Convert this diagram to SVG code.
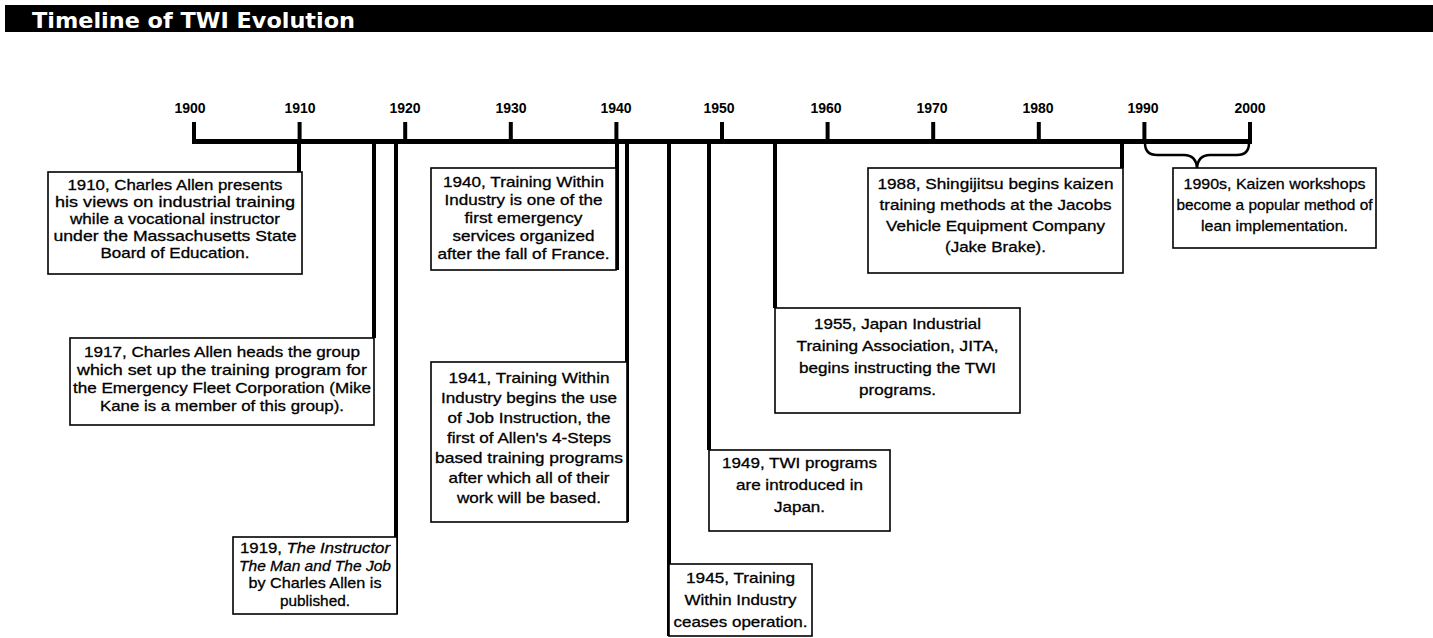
<svg xmlns="http://www.w3.org/2000/svg" width="1433" height="638" viewBox="0 0 1433 638">
<style>
.bg{fill:#fff}
.box{fill:#fff;stroke:#000;stroke-width:1.6}
.t{font-family:"Liberation Sans",Arial,sans-serif;font-size:15px;fill:#000;stroke:#000;stroke-width:0.3;text-anchor:middle}
.yr{font-family:"Liberation Sans",Arial,sans-serif;font-size:14px;font-weight:bold;fill:#000;text-anchor:middle}
.ax{stroke:#000;stroke-width:5;fill:none}
.tk{stroke:#000;stroke-width:4;fill:none}
.cn{stroke:#000;stroke-width:4;fill:none}
.br{stroke:#000;stroke-width:2.5;fill:none}
.it{font-style:italic}
</style>
<rect class="bg" x="0" y="0" width="1433" height="638"/>
<g id="title">
<rect x="5" y="5" width="1428" height="27" fill="#000"/>
<text x="32" y="28" font-family="DejaVu Sans,sans-serif" font-size="21" font-weight="bold" fill="#fff" textLength="323" lengthAdjust="spacingAndGlyphs">Timeline of TWI Evolution</text>
</g>
<g id="axis">
<line class="ax" x1="192" y1="141.5" x2="1252" y2="141.5"/>
<line class="tk" x1="194" y1="122" x2="194" y2="144"/>
<line class="tk" x1="299.6" y1="122" x2="299.6" y2="141"/>
<line class="tk" x1="405.2" y1="122" x2="405.2" y2="141"/>
<line class="tk" x1="510.8" y1="122" x2="510.8" y2="141"/>
<line class="tk" x1="616.4" y1="122" x2="616.4" y2="141"/>
<line class="tk" x1="722" y1="122" x2="722" y2="141"/>
<line class="tk" x1="827.6" y1="122" x2="827.6" y2="141"/>
<line class="tk" x1="933.2" y1="122" x2="933.2" y2="141"/>
<line class="tk" x1="1038.8" y1="122" x2="1038.8" y2="141"/>
<line class="tk" x1="1144.4" y1="122" x2="1144.4" y2="141"/>
<line class="tk" x1="1250" y1="122" x2="1250" y2="144"/>
<text class="yr" x="190" y="113">1900</text>
<text class="yr" x="300" y="113">1910</text>
<text class="yr" x="405" y="113">1920</text>
<text class="yr" x="511" y="113">1930</text>
<text class="yr" x="616" y="113">1940</text>
<text class="yr" x="719" y="113">1950</text>
<text class="yr" x="826" y="113">1960</text>
<text class="yr" x="932" y="113">1970</text>
<text class="yr" x="1038" y="113">1980</text>
<text class="yr" x="1143" y="113">1990</text>
<text class="yr" x="1250" y="113">2000</text>
</g>
<g id="connectors">
<line class="cn" x1="299" y1="143" x2="299" y2="172"/>
<line class="cn" x1="374" y1="143" x2="374" y2="338"/>
<line class="cn" x1="396" y1="143" x2="396" y2="614"/>
<line class="cn" x1="617" y1="143" x2="617" y2="270"/>
<line class="cn" x1="627" y1="143" x2="627" y2="522"/>
<line class="cn" x1="669" y1="143" x2="669" y2="636"/>
<line class="cn" x1="709" y1="143" x2="709" y2="450"/>
<line class="cn" x1="775" y1="143" x2="775" y2="308"/>
<line class="cn" x1="1122" y1="143" x2="1122" y2="168"/>
<path class="br" d="M1145,143 Q1145,155 1157,155 L1184,155 Q1196,155 1197,168 Q1198,155 1210,155 L1237,155 Q1249,155 1249,143"/>
</g>
<g id="e1910">
<rect class="box" x="48" y="172" width="254" height="102"/>
<text class="t" x="175" y="190" textLength="215" lengthAdjust="spacingAndGlyphs">1910, Charles Allen presents</text>
<text class="t" x="175" y="207" textLength="240" lengthAdjust="spacingAndGlyphs">his views on industrial training</text>
<text class="t" x="175" y="224" textLength="210" lengthAdjust="spacingAndGlyphs">while a vocational instructor</text>
<text class="t" x="175" y="241" textLength="243" lengthAdjust="spacingAndGlyphs">under the Massachusetts State</text>
<text class="t" x="175" y="258" textLength="149" lengthAdjust="spacingAndGlyphs">Board of Education.</text>
</g>
<g id="e1917">
<rect class="box" x="70" y="338" width="304" height="87"/>
<text class="t" x="222" y="357" textLength="276" lengthAdjust="spacingAndGlyphs">1917, Charles Allen heads the group</text>
<text class="t" x="222" y="375" textLength="290" lengthAdjust="spacingAndGlyphs">which set up the training program for</text>
<text class="t" x="222" y="393" textLength="298" lengthAdjust="spacingAndGlyphs">the Emergency Fleet Corporation (Mike</text>
<text class="t" x="222" y="411" textLength="244" lengthAdjust="spacingAndGlyphs">Kane is a member of this group).</text>
</g>
<g id="e1919">
<rect class="box" x="233" y="537" width="164" height="77"/>
<text class="t" x="315" y="553" textLength="150" lengthAdjust="spacingAndGlyphs">1919, <tspan class="it">The Instructor</tspan></text>
<text class="t it" x="315" y="570.5" textLength="152" lengthAdjust="spacingAndGlyphs">The Man and The Job</text>
<text class="t" x="315" y="588" textLength="133" lengthAdjust="spacingAndGlyphs">by Charles Allen is</text>
<text class="t" x="315" y="605.5" textLength="70" lengthAdjust="spacingAndGlyphs">published.</text>
</g>
<g id="e1940">
<rect class="box" x="431" y="168" width="185" height="102"/>
<text class="t" x="523.5" y="187" textLength="161" lengthAdjust="spacingAndGlyphs">1940, Training Within</text>
<text class="t" x="523.5" y="205" textLength="158" lengthAdjust="spacingAndGlyphs">Industry is one of the</text>
<text class="t" x="523.5" y="223" textLength="118" lengthAdjust="spacingAndGlyphs">first emergency</text>
<text class="t" x="523.5" y="241" textLength="142" lengthAdjust="spacingAndGlyphs">services organized</text>
<text class="t" x="523.5" y="259" textLength="172" lengthAdjust="spacingAndGlyphs">after the fall of France.</text>
</g>
<g id="e1941">
<rect class="box" x="431" y="362" width="196" height="160"/>
<text class="t" x="529" y="383" textLength="161" lengthAdjust="spacingAndGlyphs">1941, Training Within</text>
<text class="t" x="529" y="403" textLength="176" lengthAdjust="spacingAndGlyphs">Industry begins the use</text>
<text class="t" x="529" y="423" textLength="163" lengthAdjust="spacingAndGlyphs">of Job Instruction, the</text>
<text class="t" x="529" y="443" textLength="164" lengthAdjust="spacingAndGlyphs">first of Allen's 4-Steps</text>
<text class="t" x="529" y="463" textLength="188" lengthAdjust="spacingAndGlyphs">based training programs</text>
<text class="t" x="529" y="483" textLength="161" lengthAdjust="spacingAndGlyphs">after which all of their</text>
<text class="t" x="529" y="503" textLength="144" lengthAdjust="spacingAndGlyphs">work will be based.</text>
</g>
<g id="e1945">
<rect class="box" x="669" y="564" width="143" height="72"/>
<text class="t" x="740.5" y="583" textLength="109" lengthAdjust="spacingAndGlyphs">1945, Training</text>
<text class="t" x="740.5" y="605" textLength="112" lengthAdjust="spacingAndGlyphs">Within Industry</text>
<text class="t" x="740.5" y="627" textLength="134" lengthAdjust="spacingAndGlyphs">ceases operation.</text>
</g>
<g id="e1949">
<rect class="box" x="709" y="450" width="181" height="81"/>
<text class="t" x="799.5" y="468" textLength="155" lengthAdjust="spacingAndGlyphs">1949, TWI programs</text>
<text class="t" x="799.5" y="490" textLength="127" lengthAdjust="spacingAndGlyphs">are introduced in</text>
<text class="t" x="799.5" y="512" textLength="51" lengthAdjust="spacingAndGlyphs">Japan.</text>
</g>
<g id="e1955">
<rect class="box" x="775" y="308" width="245" height="105"/>
<text class="t" x="897.5" y="329" textLength="167" lengthAdjust="spacingAndGlyphs">1955, Japan Industrial</text>
<text class="t" x="897.5" y="351" textLength="202" lengthAdjust="spacingAndGlyphs">Training Association, JITA,</text>
<text class="t" x="897.5" y="373" textLength="197" lengthAdjust="spacingAndGlyphs">begins instructing the TWI</text>
<text class="t" x="897.5" y="395" textLength="77" lengthAdjust="spacingAndGlyphs">programs.</text>
</g>
<g id="e1988">
<rect class="box" x="868" y="168" width="255" height="105"/>
<text class="t" x="995.5" y="189" textLength="236" lengthAdjust="spacingAndGlyphs">1988, Shingijitsu begins kaizen</text>
<text class="t" x="995.5" y="210" textLength="232" lengthAdjust="spacingAndGlyphs">training methods at the Jacobs</text>
<text class="t" x="995.5" y="231" textLength="219" lengthAdjust="spacingAndGlyphs">Vehicle Equipment Company</text>
<text class="t" x="995.5" y="252" textLength="101" lengthAdjust="spacingAndGlyphs">(Jake Brake).</text>
</g>
<g id="e1990s">
<rect class="box" x="1173" y="168" width="203" height="80"/>
<text class="t" x="1274.5" y="189" textLength="182" lengthAdjust="spacingAndGlyphs">1990s, Kaizen workshops</text>
<text class="t" x="1274.5" y="210" textLength="196" lengthAdjust="spacingAndGlyphs">become a popular method of</text>
<text class="t" x="1274.5" y="231" textLength="147" lengthAdjust="spacingAndGlyphs">lean implementation.</text>
</g>
</svg>
